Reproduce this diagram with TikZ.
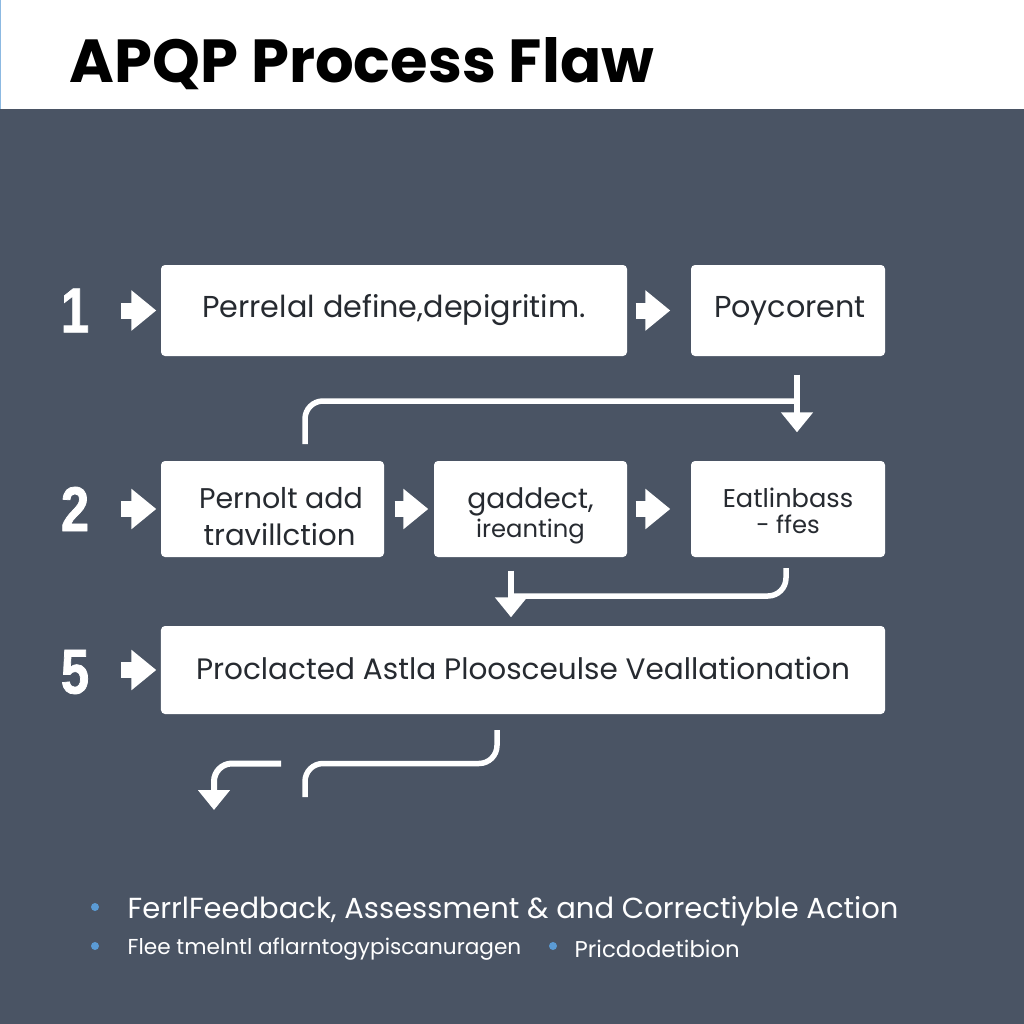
\documentclass[tikz,border=0pt]{standalone}
\usepackage{fontspec}
\usepackage{xcolor}
\setmainfont{Poppins}
\newfontfamily\numfont[FakeStretch=0.8,FakeBold=1.2]{Liberation Sans}
\usetikzlibrary{arrows.meta}

\definecolor{slatebg}{HTML}{4A5464}
\definecolor{bulletblue}{HTML}{5B9BD5}
\definecolor{boxtext}{HTML}{262A30}

\tikzset{
    stepbox/.style={draw=none, fill=white, rounded corners=0.04cm, inner sep=0pt, align=center, text=boxtext},
    stepnum/.style={inner sep=0pt, minimum width=0.24cm, text=white, font=\numfont\bfseries\fontsize{18}{18}\selectfont},
    blockarrow/.style={white, line width=0.16cm, -{Triangle[width=0.39cm,length=0.25cm]}},
    thinline/.style={white, line width=0.055cm, rounded corners=0.18cm},
    thinarrow/.style={white, line width=0.06cm, -{Triangle[width=0.31cm,length=0.2cm]}},
    bullet/.style={circle, fill=bulletblue, inner sep=0pt, minimum size=0.08cm},
    notetext/.style={anchor=west, inner sep=0pt, text=white}
}

\begin{document}
\begin{tikzpicture}[x=1cm, y=-1cm]
        \useasboundingbox (0, 0) rectangle (10.24, 10.24);

        % background and header
        \fill [slatebg] (0, 0) rectangle (10.24, 10.24);
        \fill [white] (0.015, 0) rectangle (10.24, 1.09);
        \fill [bulletblue!70!white] (0, 0) rectangle (0.015, 1.09);

        \node [anchor=west, inner sep=0pt] (title) at (0.69, 0.64) {\fontsize{17.3}{20}\selectfont\bfseries APQP Process Flaw};

        % First row
        \node [stepnum] (n1) at (0.75, 3.105) {1};
        \node [stepbox, minimum width=4.66cm, minimum height=0.91cm, font=\fontsize{8.6}{11}\selectfont] (b1) at (3.94, 3.105) {Perrelal define,depigritim.};
        \node [stepbox, minimum width=1.94cm, minimum height=0.91cm, font=\fontsize{8.6}{11}\selectfont] (b2) at (7.88, 3.105) {\hspace{0.04cm}Poycorent};

        % Second row
        \node [stepnum] (n2) at (0.75, 5.09) {2};
        \node [stepbox, minimum width=2.23cm, minimum height=0.96cm, font=\fontsize{8.1}{10.5}\selectfont] (b3) at (2.725, 5.09) {\rule{0pt}{0.36cm}\hspace*{0.17cm}Pernolt add\\[0cm]\fontsize{8.3}{10.5}\selectfont\hspace*{0.14cm}travillction};
        \node [stepbox, minimum width=1.93cm, minimum height=0.96cm, font=\fontsize{8}{8.8}\selectfont] (b4) at (5.305, 5.09) {\rule{0pt}{0.35cm}gaddect,\\[-0.02cm]\fontsize{6.9}{8.8}\selectfont ireanting};
        \node [stepbox, minimum width=1.94cm, minimum height=0.96cm, font=\fontsize{7.3}{7.4}\selectfont] (b5) at (7.88, 5.09) {\rule{0pt}{0.24cm}Eatlinbass\\\fontsize{6.9}{7.4}\selectfont - ffes};

        % Third row
        \node [stepnum] (n3) at (0.75, 6.72) {5};
        \node [stepbox, minimum width=7.24cm, minimum height=0.88cm, font=\fontsize{8.4}{11}\selectfont] (b6) at (5.23, 6.70) {\raisebox{0.03cm}{Proclacted Astla Ploosceulse Veallationation}};

        % Block arrows
        \draw [blockarrow, shorten <=0.31cm, shorten >=0.04cm] (n1) -- (b1);
        \draw [blockarrow, shorten <=0.08cm, shorten >=0.20cm] (b1) -- (b2);
        \draw [blockarrow, shorten <=0.31cm, shorten >=0.04cm] (n2) -- (b3);
        \draw [blockarrow, shorten <=0.10cm, shorten >=0.05cm] (b3) -- (b4);
        \draw [blockarrow, shorten <=0.08cm, shorten >=0.20cm] (b4) -- (b5);
        \draw [blockarrow, shorten <=0.31cm, shorten >=0.04cm] (n3.east |- b6.west) -- (b6.west);

        % Down arrows
        \draw [thinarrow, shorten <=0.18cm, shorten >=0.28cm] ([xshift=0.09cm]b2.south) -- ([xshift=0.09cm]b5.north);
        \draw [thinarrow, shorten <=0.13cm, shorten >=0.08cm] ([xshift=-0.195cm]b4.south) -- ([xshift=-0.195cm]b4.south |- b6.north);

        % Return lines
        \coordinate (r1) at (3.05, 4.44);
        \coordinate (r2) at (7.97, 4.01);
        \draw [thinline] (r1) |- (r2);

        \coordinate (r3) at (7.86, 5.68);
        \coordinate (r4) at (5.14, 5.96);
        \draw [thinline] (r3) |- (r4);

        \coordinate (r5) at (4.97, 7.30);
        \coordinate (r6) at (3.05, 7.97);
        \draw [thinline] (r5) -- (4.97, 7.635) -- (3.05, 7.635) -- (r6);

        \coordinate (r7) at (2.81, 7.635);
        \coordinate (r8) at (2.14, 8.10);
        \draw [thinarrow, rounded corners=0.18cm] (r7) -| (r8);

        % Notes
        \node [bullet] (d1) at (0.95, 9.07) {};
        \node [notetext] (t1) at (1.27, 9.11) {\fontsize{8.25}{10}\selectfont FerrlFeedback, Assessment \& and Correctiyble Action};
        \node [bullet] (d2) at (0.95, 9.46) {};
        \node [notetext] (t2) at (1.27, 9.49) {\fontsize{6.15}{8}\selectfont Flee tmelntl aflarntogypiscanuragen};
        \node [bullet] (d3) at (5.53, 9.46) {};
        \node [notetext] (t3) at (5.74, 9.49) {\fontsize{6.5}{8}\selectfont Pricdodetibion};
    \end{tikzpicture}
\end{document}
